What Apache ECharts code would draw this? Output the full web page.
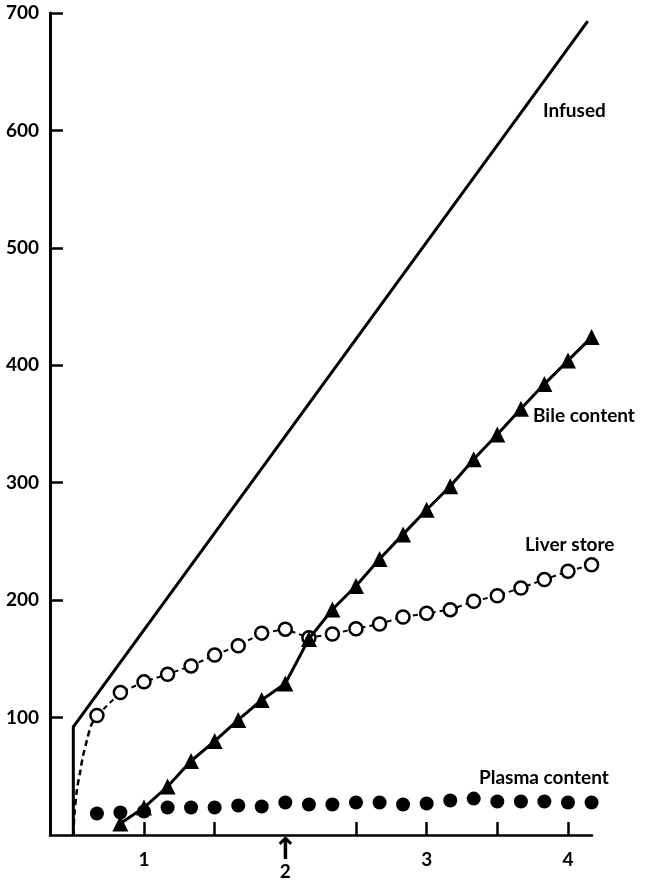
<!DOCTYPE html>
<html>
<head>
<meta charset="utf-8">
<script src="https://cdn.jsdelivr.net/npm/echarts@6/dist/echarts.min.js"></script>
<style>
  html, body { margin: 0; padding: 0; background: #fff; }
  #chart { width: 652px; height: 882px; }
</style>
</head>
<body>
<div id="chart"></div>
<script>
// sample times (every 10 min)
const sampleTimes = [0.667, 0.833, 1.0, 1.167, 1.333, 1.5, 1.667, 1.833, 2.0, 2.167, 2.333,
  2.5, 2.667, 2.833, 3.0, 3.167, 3.333, 3.5, 3.667, 3.833, 4.0, 4.167];

// infused: vertical jump then straight line
const infusedX = [0.5, 0.5, 4.14];
const infusedY = [0, 92, 693];

// dashed lead-in of the liver store curve
const liverLeadX = [0.5, 0.508, 0.526, 0.547, 0.568, 0.597, 0.625, 0.667];
const liverLeadY = [0, 18, 39, 53, 67, 81, 93, 101.7];

const liverStore = [101.7, 121.3, 130.4, 136.9, 144, 153.2, 161.1, 171.9, 175.3, 168, 171.2,
  175.7, 179.7, 185.7, 188.8, 191.9, 199, 203.8, 210.4, 217.5, 224.6, 230.2];

// bile starts at the second sample
const bileContent = [9.8, 23.4, 41.3, 63, 80, 98, 115, 129, 167, 192, 212,
  235, 256, 277, 297, 320, 341, 363, 384, 404, 424];

const plasmaContent = [18.3, 19.1, 20, 23.4, 23.4, 23.4, 25.1, 24.3, 27.7, 26, 26,
  27.7, 27.7, 26, 26.8, 29.4, 31, 28.5, 28.5, 28.5, 27.7, 27.7];

const xTicks = [1, 1.5, 2.5, 3, 3.5, 4];
const xLabels = [1, 2, 3, 4];
const yLabels = [100, 200, 300, 400, 500, 600, 700];

const FONT = "Lato";

function pairs(xs, ys) {
  return ys.map((y, i) => [xs[i], y]);
}

const chart = echarts.init(document.getElementById("chart"), null, { renderer: "canvas" });

const option = {
  animation: false,
  backgroundColor: "#fff",
  grid: { left: 50, top: 13, width: 542, height: 822, containLabel: false, outerBoundsMode: "none" },
  xAxis: {
    type: "value",
    min: 0.335,
    max: 4.17,
    axisLine: { show: true, lineStyle: { color: "#000", width: 2.5 } },
    axisTick: { show: true, inside: true, length: 13, customValues: xTicks,
      lineStyle: { color: "#000", width: 2.5 } },
    axisLabel: {
      customValues: xLabels,
      margin: 3,
      formatter: function (v) {
        if (v === 2) return "{a|↑}\n{n|2}";
        return "{m|" + v + "}";
      },
      rich: {
        a: { fontFamily: "DejaVu Sans", fontWeight: "bold", fontSize: 30, lineHeight: 26, color: "#000" },
        n: { fontFamily: FONT, fontWeight: "bold", fontSize: 19, lineHeight: 16, color: "#000" },
        m: { fontFamily: FONT, fontWeight: "bold", fontSize: 19, color: "#000", padding: [12, 0, 0, 0] }
      }
    },
    splitLine: { show: false }
  },
  yAxis: {
    type: "value",
    min: 0,
    max: 700,
    axisLine: { show: true, lineStyle: { color: "#000", width: 3 } },
    axisTick: { show: true, inside: true, length: 13, customValues: yLabels,
      lineStyle: { color: "#000", width: 2.5 } },
    axisLabel: {
      customValues: yLabels,
      margin: 11,
      color: "#000",
      fontFamily: FONT,
      fontWeight: "bold",
      fontSize: 19
    },
    splitLine: { show: false }
  },
  series: [
    {
      name: "Infused",
      type: "line",
      data: pairs(infusedX, infusedY),
      symbol: "none",
      clip: false,
      lineStyle: { color: "#000", width: 3 },
      z: 2
    },
    {
      name: "Liver lead",
      type: "line",
      data: pairs(liverLeadX, liverLeadY),
      symbol: "none",
      smooth: 0.3,
      clip: false,
      lineStyle: { color: "#000", width: 2.5, type: [6, 4] },
      z: 2
    },
    {
      name: "Liver store",
      type: "line",
      data: pairs(sampleTimes, liverStore),
      symbol: "circle",
      symbolSize: 13,
      clip: false,
      itemStyle: { color: "#fff", borderColor: "#000", borderWidth: 2.5, opacity: 1 },
      lineStyle: { color: "#000", width: 2, type: [5, 4] },
      z: 3
    },
    {
      name: "Bile content",
      type: "line",
      data: pairs(sampleTimes.slice(1), bileContent),
      symbol: "triangle",
      symbolSize: 16,
      clip: false,
      itemStyle: { color: "#000", opacity: 1 },
      lineStyle: { color: "#000", width: 3 },
      z: 4
    },
    {
      name: "Plasma content",
      type: "scatter",
      data: pairs(sampleTimes, plasmaContent),
      symbol: "circle",
      symbolSize: 14,
      clip: false,
      itemStyle: { color: "#000", opacity: 1 },
      z: 5
    }
  ],
  graphic: [
    { type: "text", left: 543, top: 101, style: { text: "Infused", fill: "#000",
      font: "bold 19px " + FONT } },
    { type: "text", left: 533, top: 406, style: { text: "Bile content", fill: "#000",
      font: "bold 19px " + FONT } },
    { type: "text", left: 525, top: 535, style: { text: "Liver store", fill: "#000",
      font: "bold 19px " + FONT } },
    { type: "text", left: 479, top: 768, style: { text: "Plasma content", fill: "#000",
      font: "bold 19px " + FONT } }
  ]
};

chart.setOption(option);
</script>
</body>
</html>
